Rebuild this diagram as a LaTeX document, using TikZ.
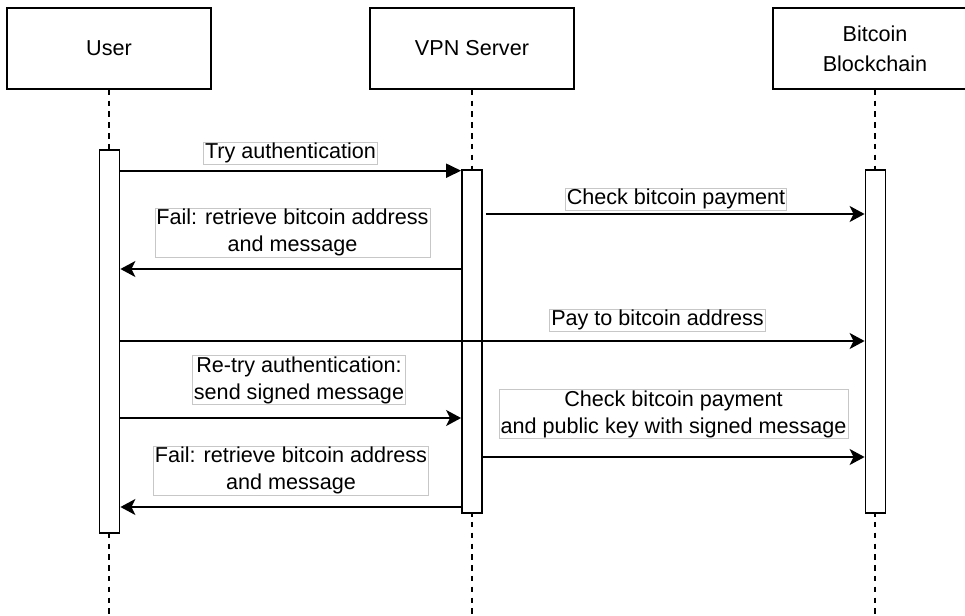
\documentclass[tikz,border=0pt]{standalone}
\usepackage{fontspec}
\setmainfont{Liberation Sans}
\usetikzlibrary{arrows.meta}
\begin{document}
\begin{tikzpicture}[x=1pt,y=-1pt,
  every node/.style={font=\fontsize{21.6}{27}\selectfont},
  head/.style={draw, line width=1.8pt, minimum width=204pt, minimum height=81pt, align=center, inner sep=0pt},
  bar/.style={draw, fill=white, line width=1.8pt, minimum width=20pt, inner sep=0pt},
  life/.style={line width=1.6pt, dash pattern=on 5.4pt off 5.4pt},
  lbl/.style={draw=black!22, fill=white, line width=0.8pt, align=center, inner xsep=1.5pt, inner ysep=1pt},
  msgb/.style={line width=1.8pt, -{Triangle[length=15pt,width=14pt]}},
  msg/.style={line width=1.8pt, -{Stealth[length=15pt,width=16pt,inset=4pt]}}]
\useasboundingbox (0,0) rectangle (965,615);

% participants
\node[head] (user) at (109,48.5) {User};
\node[head] (vpn) at (472,48.5) {VPN Server};
\node[head] (btc) at (875,48.5) {Bitcoin\\[3pt]Blockchain};

% lifelines
\coordinate (uend) at (109,615);
\coordinate (vend) at (472,615);
\coordinate (bend) at (875,615);
\draw[life] (user.south) -- (uend);
\draw[life] (vpn.south) -- (vend);
\draw[life] (btc.south) -- (bend);

% activation bars
\node[bar, minimum height=383pt] (uact) at (109.5,341.5) {};
\node[bar, minimum height=343pt] (vact) at (472,341.5) {};
\node[bar, minimum height=343pt] (bact) at (875.5,341.5) {};

% messages
\draw[msgb] (uact.east |- 0,170.7) -- (vact.west |- 0,170.7);
\node[lbl] (l1) at (290.5,153) {Try authentication};

\draw[msg, shorten <=3pt] (vact.east |- 0,214) -- (bact.west |- 0,214);
\node[lbl] (l2) at (676,199) {Check bitcoin payment};

\draw[msg] (vact.west |- 0,269) -- (uact.east |- 0,269);
\node[lbl] (l3) at (292.5,232.5) {Fail: retrieve bitcoin address\\and message};

\draw[msg] (uact.east |- 0,341) -- (bact.west |- 0,341);
\node[lbl] (l4) at (657.5,320) {Pay to bitcoin address};

\draw[msg] (uact.east |- 0,418) -- (vact.west |- 0,418);
\node[lbl] (l5) at (299,380) {Re-try authentication:\\send signed message};

\draw[msg] (vact.east |- 0,457) -- (bact.west |- 0,457);
\node[lbl] (l6) at (673.5,414) {Check bitcoin payment\\and public key with signed message};

\draw[msg] (vact.west |- 0,507) -- (uact.east |- 0,507);
\node[lbl] (l7) at (291,470.5) {Fail: retrieve bitcoin address\\and message};

\end{tikzpicture}
\end{document}
